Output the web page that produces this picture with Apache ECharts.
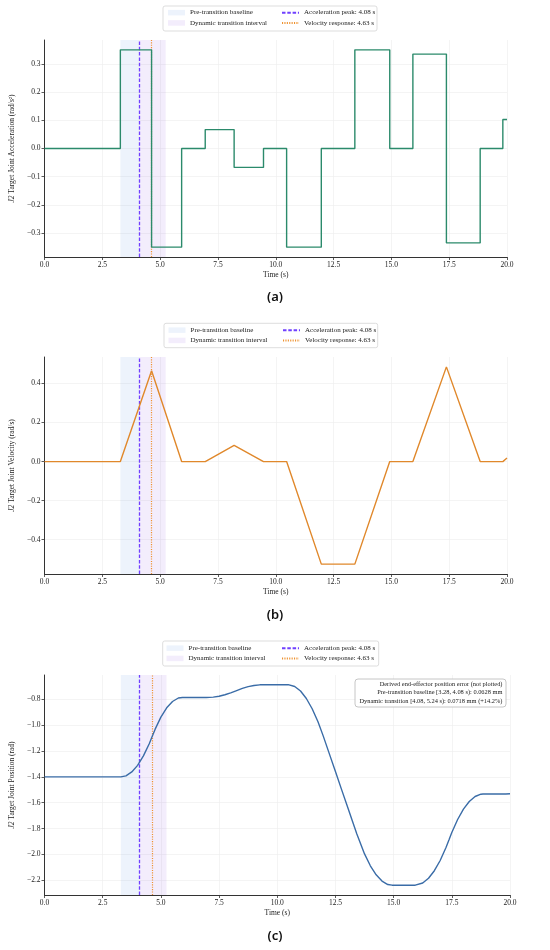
<!DOCTYPE html>
<html>
<head>
<meta charset="UTF-8">
<title>J2 target joint profiles</title>
<style>
    html, body {
        margin: 0;
        padding: 0;
        background: #fff;
    }

    #chart {
        width: 550px;
        height: 950px;
    }
</style>
</head>
<body>
<div id="chart"></div>
<script src="https://cdn.jsdelivr.net/npm/echarts@6/dist/echarts.min.js"></script>
<script>
    // (a) acceleration, step held from each time to the next
    var accT = [0, 3.28, 4.63, 5.93, 6.95, 8.2, 9.47, 10.47, 11.97, 13.42, 14.93, 15.93, 17.38, 18.84, 19.82, 20];
    var accV = [0, 0.35, -0.35, 0, 0.067, -0.067, 0, -0.35, 0, 0.35, 0, 0.335, -0.335, 0, 0.103, 0.103];

    // (b) velocity breakpoints
    var velT = [0, 3.28, 4.63, 5.93, 6.95, 8.2, 9.47, 10.47, 11.97, 13.42, 14.93, 15.93, 17.38, 18.84, 19.82, 20];
    var velV = [0, 0, 0.465, 0, 0, 0.083, 0, 0, -0.525, -0.525, 0, 0, 0.485, 0, 0, 0.018];

    // (c) position
    var posT = [0, 3.28, 3.5, 3.75, 4.0, 4.25, 4.5, 4.63, 4.75, 5.0, 5.25, 5.5, 5.75, 5.93,
        6.95, 7.25, 7.5, 7.75, 8.0, 8.2, 8.5, 8.75, 9.0, 9.25, 9.47,
        10.47, 10.75, 11.0, 11.25, 11.5, 11.75, 11.97, 12.25, 12.5, 12.75, 13.0, 13.25, 13.42,
        13.75, 14.0, 14.25, 14.5, 14.75, 14.93, 15.93, 16.25, 16.5, 16.75, 17.0, 17.25, 17.38,
        17.5, 17.75, 18.0, 18.25, 18.5, 18.75, 18.84, 19.82, 20];
    var posV = [-1.40, -1.40, -1.392, -1.362, -1.311, -1.238, -1.144, -1.086, -1.033, -0.938, -0.866, -0.817, -0.790, -0.786,
        -0.786, -0.783, -0.776, -0.765, -0.750, -0.736, -0.715, -0.702, -0.693, -0.688, -0.687,
        -0.687, -0.701, -0.736, -0.794, -0.873, -0.974, -1.081, -1.228, -1.359, -1.491, -1.622, -1.753, -1.842,
        -1.996, -2.088, -2.158, -2.206, -2.233, -2.238, -2.238, -2.221, -2.184, -2.126, -2.047, -1.947, -1.887,
        -1.831, -1.730, -1.650, -1.591, -1.552, -1.534, -1.533, -1.533, -1.531];

    var baselineSpan = [3.28, 4.08];
    var dynamicSpan = [4.08, 5.24];
    var accPeakT = 4.08;
    var velRespT = 4.63;

    var accTicks = [-0.3, -0.2, -0.1, 0, 0.1, 0.2, 0.3];
    var velTicks = [-0.4, -0.2, 0, 0.2, 0.4];
    var posTicks = [-2.2, -2.0, -1.8, -1.6, -1.4, -1.2, -1.0, -0.8];

    var legendNames = ['Pre-transition baseline', 'Dynamic transition interval',
        'Acceleration peak: 4.08 s', 'Velocity response: 4.63 s'];
    var errorLines = ['Derived end-effector position error (not plotted)',
        'Pre-transition baseline [3.28, 4.08 s): 0.0628 mm',
        'Dynamic transition [4.08, 5.24 s): 0.0718 mm (+14.2%)'];

    var SERIF = '"Liberation Serif", "DejaVu Serif", serif';
    var baseFill = 'rgba(80,140,225,0.10)', dynFill = 'rgba(145,95,230,0.11)';
    var peakColor = '#7040ff', respColor = '#ee9230';

    var panels = [
        {
            t: accT, v: accV, color: '#2b8a6b', step: 'end', ticks: accTicks, min: -0.385, max: 0.385,
            grid: {left: 34, top: 40, width: 473, height: 217}, nameGap: 24,
            name: '{it|J2} Target Joint Acceleration (rad/s\u00b2)',
            legendTop: 7.5, legendLeft: [168, 281], frame: [163, 6, 214, 25], caption: '(a)', capY: 300
        },
        {
            t: velT, v: velV, color: '#e0882b', step: false, ticks: velTicks, min: -0.5755, max: 0.5355,
            grid: {left: 34, top: 357, width: 473, height: 217}, nameGap: 24,
            name: '{it|J2} Target Joint Velocity (rad/s)',
            legendTop: 325, legendLeft: [168.5, 282], frame: [164, 323.3, 213.7, 24.4], caption: '(b)', capY: 618
        },
        {
            t: posT, v: posV, color: '#3a6ca7', step: false, ticks: posTicks, min: -2.314, max: -0.612,
            grid: {left: 31, top: 675, width: 479, height: 220}, nameGap: 22,
            name: '{it|J2} Target Joint Position (rad)',
            legendTop: 643, legendLeft: [166.5, 281], frame: [162.7, 641, 216, 25], caption: '(c)', capY: 939
        }
    ];

    var fmt = function (v) {
        return (v < 0 ? '\u2212' : '') + Math.abs(v).toFixed(1);
    };

    var grids = [], xAxes = [], yAxes = [], series = [], legends = [], graphics = [];

    panels.forEach(function (p, i) {
        grids.push(p.grid);

        xAxes.push({
            type: 'value', gridIndex: i, min: 0, max: 20, interval: 2.5,
            name: 'Time (s)', nameLocation: 'middle', nameGap: 14,
            nameTextStyle: {fontFamily: SERIF, fontSize: 7.5, color: '#222'},
            axisLine: {onZero: false, lineStyle: {color: '#333', width: 1}},
            axisTick: {length: 3, lineStyle: {color: '#333', width: 0.8}},
            axisLabel: {fontFamily: SERIF, fontSize: 7.5, color: '#222', margin: 4, formatter: fmt},
            splitLine: {show: true, lineStyle: {color: '#ececec', width: 0.6}}
        });

        yAxes.push({
            type: 'value', gridIndex: i, min: p.min, max: p.max,
            name: p.name, nameLocation: 'middle', nameGap: p.nameGap,
            nameTextStyle: {
                fontFamily: SERIF, fontSize: 7.5, color: '#222',
                rich: {it: {fontFamily: SERIF, fontSize: 7.5, fontStyle: 'italic', color: '#222'}}
            },
            axisLine: {show: true, onZero: false, lineStyle: {color: '#333', width: 1}},
            axisTick: {show: true, length: 3, customValues: p.ticks, lineStyle: {color: '#333', width: 0.8}},
            axisLabel: {customValues: p.ticks, fontFamily: SERIF, fontSize: 7.5, color: '#222', margin: 4, formatter: fmt},
            splitLine: {show: true, lineStyle: {color: '#ececec', width: 0.6}}
        });

        series.push({
            name: legendNames[0], type: 'line', xAxisIndex: i, yAxisIndex: i, data: [],
            itemStyle: {color: baseFill},
            markArea: {silent: true, itemStyle: {color: baseFill}, data: [[{xAxis: baselineSpan[0]}, {xAxis: baselineSpan[1]}]]}
        }, {
            name: legendNames[1], type: 'line', xAxisIndex: i, yAxisIndex: i, data: [],
            itemStyle: {color: dynFill},
            markArea: {silent: true, itemStyle: {color: dynFill}, data: [[{xAxis: dynamicSpan[0]}, {xAxis: dynamicSpan[1]}]]}
        }, {
            name: legendNames[2], type: 'line', xAxisIndex: i, yAxisIndex: i, data: [], symbol: 'none',
            itemStyle: {color: peakColor, opacity: 0},
            lineStyle: {color: peakColor, width: 1, type: [3.5, 1.8]},
            markLine: {
                silent: true, symbol: ['none', 'none'], label: {show: false},
                lineStyle: {color: peakColor, opacity: 1, width: 1.3, type: [3.5, 1.8]},
                data: [{xAxis: accPeakT}]
            },
            z: 3
        }, {
            name: legendNames[3], type: 'line', xAxisIndex: i, yAxisIndex: i, data: [], symbol: 'none',
            itemStyle: {color: respColor, opacity: 0},
            lineStyle: {color: respColor, width: 1.1, type: [1.1, 1.3]},
            markLine: {
                silent: true, symbol: ['none', 'none'], label: {show: false},
                lineStyle: {color: respColor, opacity: 1, width: 1.2, type: [1.1, 1.3]},
                data: [{xAxis: velRespT}]
            },
            z: 3
        }, {
            type: 'line', xAxisIndex: i, yAxisIndex: i, step: p.step, symbol: 'none', silent: true,
            lineStyle: {color: p.color, width: 1.4}, itemStyle: {color: p.color},
            data: p.t.map(function (t, k) {
                return [t, p.v[k]];
            }),
            z: 5
        });

        var legendBase = {
            orient: 'vertical', top: p.legendTop, padding: 0, itemGap: 0,
            itemWidth: 17, itemHeight: 5.5, selectedMode: false,
            textStyle: {fontFamily: SERIF, fontSize: 7, lineHeight: 10.3, color: '#222'}
        };
        legends.push(echarts.util.extend({
            left: p.legendLeft[0],
            data: [
                {name: legendNames[0], icon: 'rect', itemStyle: {color: baseFill}},
                {name: legendNames[1], icon: 'rect', itemStyle: {color: dynFill}}
            ]
        }, legendBase));
        legends.push(echarts.util.extend({
            left: p.legendLeft[1],
            data: [legendNames[2], legendNames[3]]
        }, legendBase));

        graphics.push({
            type: 'rect', silent: true, z: -1,
            shape: {x: p.frame[0], y: p.frame[1], width: p.frame[2], height: p.frame[3], r: 2},
            style: {fill: '#fff', stroke: '#d4d4d4', lineWidth: 0.8}
        }, {
            type: 'text', silent: true, left: 'center', top: p.capY - 9,
            style: {text: p.caption, font: '600 13px "Noto Sans", sans-serif', fill: '#111'}
        });
    });

    // error note in panel (c)
    graphics.push({
        type: 'rect', silent: true, z: 10,
        shape: {x: 355, y: 679, width: 151, height: 28, r: 3},
        style: {fill: 'rgba(255,255,255,0.9)', stroke: '#b8b8b8', lineWidth: 0.8}
    }, {
        type: 'text', silent: true, z: 11,
        style: {
            x: 502.5, y: 680.5, text: errorLines.join('\n'), align: 'right', verticalAlign: 'top',
            font: '6.4px ' + SERIF, lineHeight: 8.2, fill: '#222'
        }
    });

    var chart = echarts.init(document.getElementById('chart'));
    chart.setOption({
        animation: false,
        backgroundColor: '#fff',
        grid: grids,
        xAxis: xAxes,
        yAxis: yAxes,
        legend: legends,
        graphic: graphics,
        series: series
    });
</script>
</body>
</html>
